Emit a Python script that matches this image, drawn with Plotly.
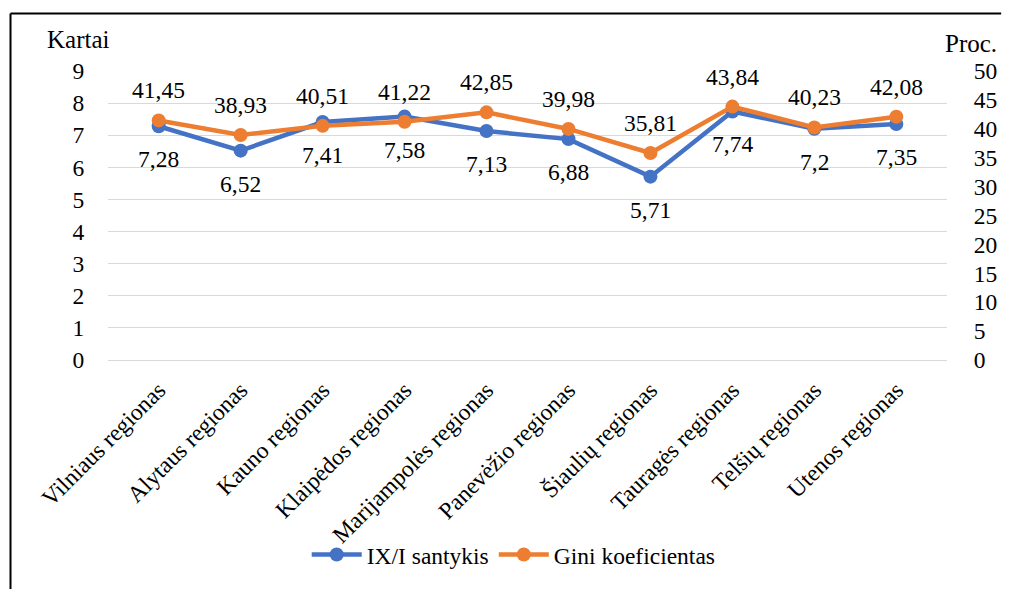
import plotly.graph_objects as go

# Regional income inequality indicators
regions = [
    "Vilniaus regionas", "Alytaus regionas", "Kauno regionas", "Klaipėdos regionas",
    "Marijampolės regionas", "Panevėžio regionas", "Šiaulių regionas",
    "Tauragės regionas", "Telšių regionas", "Utenos regionas",
]
ratio_ix_i = [7.28, 6.52, 7.41, 7.58, 7.13, 6.88, 5.71, 7.74, 7.2, 7.35]
gini = [41.45, 38.93, 40.51, 41.22, 42.85, 39.98, 35.81, 43.84, 40.23, 42.08]

left_ticks = list(range(0, 10))
right_ticks = list(range(0, 55, 5))

BLUE = "#4472C4"
ORANGE = "#ED7D31"
FONT = "Liberation Serif"
FS = 23.5
FS_TITLE = 25

# Plot area in pixels
L, R, T, B = 108, 960, 71, 362
W, H = 1009, 589
pw, ph = R - L, B - T


def px_x(p):
    return (p - L) / pw


def px_y(p):
    return (B - p) / ph


def fmt(v):
    return f"{v:g}".replace(".", ",")


fig = go.Figure()
fig.add_trace(go.Scatter(
    x=regions, y=ratio_ix_i, name="IX/I santykis", mode="lines+markers",
    line=dict(color=BLUE, width=4.5), marker=dict(color=BLUE, size=14),
    yaxis="y",
))
fig.add_trace(go.Scatter(
    x=regions, y=gini, name="Gini koeficientas", mode="lines+markers",
    line=dict(color=ORANGE, width=4.5), marker=dict(color=ORANGE, size=14),
    yaxis="y2",
))

txt_font = dict(family=FONT, size=FS, color="black")
title_font = dict(family=FONT, size=FS_TITLE, color="black")
annotations = []
for r, v in zip(regions, ratio_ix_i):
    annotations.append(dict(x=r, y=v, xref="x", yref="y", text=fmt(v),
                            showarrow=False, yshift=-33, font=txt_font))
for r, v in zip(regions, gini):
    annotations.append(dict(x=r, y=v, xref="x", yref="y2", text=fmt(v),
                            showarrow=False, yshift=30, font=txt_font))

# Axis titles
annotations.append(dict(x=px_x(78), y=px_y(39), xref="paper", yref="paper",
                        xanchor="center", yanchor="middle", text="Kartai",
                        showarrow=False, font=title_font))
annotations.append(dict(x=px_x(984), y=px_y(43), xref="paper", yref="paper",
                        xanchor="center", yanchor="middle", text="Proc.",
                        showarrow=False, font=title_font))

fig.update_layout(
    width=W, height=H,
    margin=dict(l=L, r=W - R, t=T, b=H - B),
    paper_bgcolor="white", plot_bgcolor="white",
    font=txt_font,
    showlegend=True,
    legend=dict(orientation="h", x=px_x(520), xanchor="center",
                y=px_y(558), yanchor="middle", font=txt_font,
                bgcolor="rgba(0,0,0,0)", itemwidth=50, tracegroupgap=0),
    xaxis=dict(
        tickangle=-45, showgrid=False, showline=False, zeroline=False,
        ticks="outside", ticklen=6, tickcolor="rgba(0,0,0,0)",
        tickfont=txt_font,
    ),
    yaxis=dict(
        range=[0, 9], tickvals=left_ticks, showgrid=True, gridcolor="#D9D9D9",
        gridwidth=1.3, zeroline=True, zerolinecolor="#D9D9D9", zerolinewidth=1.3,
        showline=False, ticks="outside", ticklen=18, tickcolor="rgba(0,0,0,0)",
        tickfont=txt_font,
    ),
    yaxis2=dict(
        range=[0, 50], tickvals=right_ticks, overlaying="y", side="right",
        showgrid=False, zeroline=False, showline=False,
        ticks="outside", ticklen=21, tickcolor="rgba(0,0,0,0)",
        tickfont=txt_font,
    ),
    annotations=annotations,
    shapes=[
        dict(type="line", xref="paper", yref="paper",
             x0=px_x(9), y0=px_y(13), x1=px_x(1015), y1=px_y(13),
             line=dict(color="black", width=2)),
        dict(type="line", xref="paper", yref="paper",
             x0=px_x(9), y0=px_y(13), x1=px_x(9), y1=px_y(595),
             line=dict(color="black", width=2)),
    ],
)

fig.write_html("out.html")
